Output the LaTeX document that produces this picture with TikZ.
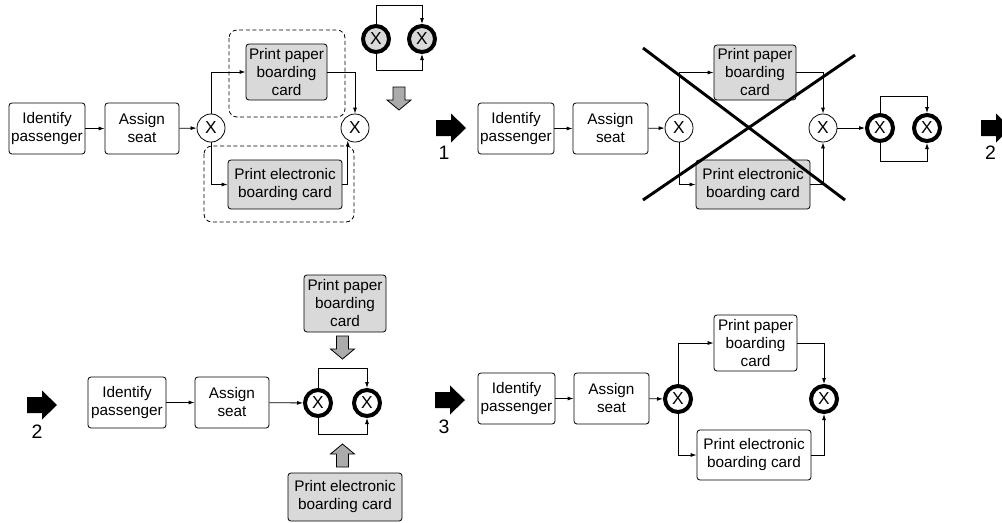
\documentclass[tikz,border=0pt]{standalone}
\usepackage{fontspec}
\setmainfont{Liberation Sans}
\usetikzlibrary{arrows.meta}
\begin{document}
\begin{tikzpicture}[x=0.75pt,y=-0.75pt,
  lbl/.style={font=\fontsize{11.5}{13.5}\selectfont},
  task/.style={lbl, draw, rounded corners=2.2pt, align=center, inner sep=0pt,
    line width=0.6pt, minimum height=38.25pt},
  shaded/.style={fill=black!15},
  gatefont/.style={font=\fontsize{13}{13}\selectfont},
  gate/.style={gatefont, circle, draw, line width=0.6pt, fill=white,
    minimum size=21pt, inner sep=0pt},
  xorgate/.style={gatefont, circle, draw, line width=3pt, fill=white,
    minimum size=19.5pt, inner sep=0pt},
  flow/.style={line width=0.6pt, -{Latex[length=4.5pt,width=3pt]}},
  group/.style={draw, dashed, dash pattern=on 3pt off 2pt, line width=0.6pt, rounded corners=6pt},
  numlabel/.style={font=\fontsize{14.6}{16}\selectfont, inner sep=0pt},
  bigarrow/.pic={\fill (0,-8) -- (15,-8) -- (15,-14.5) -- (30,0) -- (15,14.5)
    -- (15,8) -- (0,8) -- cycle;},
  grayarrow/.pic={\filldraw[fill=black!33, line width=0.6pt, line join=miter]
    (-6,0) -- (6,0) -- (6,13) -- (12,13) -- (0,23) -- (-12,13) -- (-6,13) -- cycle;}
]
\useasboundingbox (0,0) rectangle (1002,522);

% ---------- stage 0: original model with the two alternatives grouped ----------
\draw[group] (229,30) rectangle (345,117);
\draw[group] (204,146) rectangle (354,222);
\node[task, minimum width=57pt] (idA) at (47,128.5) {Identify\\passenger};
\node[task, minimum width=55.5pt] (asA) at (142,128.5) {Assign\\seat};
\node[gate] (xA1) at (211,128) {X};
\node[task, shaded, minimum width=60.75pt, minimum height=42pt] (ppA) at (286.5,72) {Print paper\\boarding\\card};
\node[task, shaded, minimum width=85.5pt, minimum height=36.75pt] (peA) at (285,184.5) {Print electronic\\boarding card};
\node[gate] (xA2) at (355,128) {X};
\draw[flow] (idA) -- (asA);
\draw[flow] (asA) -- (xA1);
\draw[flow] (xA1.north) |- (ppA.west);
\draw[flow] (xA1.south) |- (peA.west);
\draw[flow] (ppA.east) -| (xA2.north);
\draw[flow] (peA.east) -| (xA2.-120);

% replacement gateway pair
\node[xorgate, fill=black!15] (gA1) at (376,39) {X};
\node[xorgate, fill=black!15] (gA2) at (422,39) {X};
\draw[flow] (gA1.north) -- ++(0,-19) -| (gA2.north);
\draw[flow] (gA1.south) -- ++(0,16) -| (gA2.south);
\pic at (399,87) {grayarrow};

\pic at (436,128) {bigarrow};
\node[numlabel] (n1) at (444,153) {1};

% ---------- stage 1: alternatives removed, gateway pair inserted ----------
\node[task, minimum width=57pt] (idB) at (516,128.5) {Identify\\passenger};
\node[task, minimum width=56.25pt] (asB) at (610.5,128.5) {Assign\\seat};
\node[gate] (xB1) at (679,128) {X};
\node[task, shaded, minimum width=61.5pt, minimum height=41.25pt] (ppB) at (755,72.5) {Print paper\\boarding\\card};
\node[task, shaded, minimum width=85.5pt, minimum height=36.75pt] (peB) at (753,184.5) {Print electronic\\boarding card};
\node[gate] (xB2) at (823,128) {X};
\draw[flow] (idB) -- (asB);
\draw[flow] (asB) -- (xB1);
\draw[flow] (xB1.north) |- (ppB.west);
\draw[flow] (xB1.south) |- (peB.west);
\draw[flow] (ppB.east) -| (xB2.north);
\draw[flow] (peB.east) -| (xB2.south);
\draw[line width=2.2pt] (643,48) -- (845,200);
\draw[line width=2.2pt] (643,200) -- (855,55);
\node[xorgate] (gB1) at (880,128) {X};
\node[xorgate] (gB2) at (927,128) {X};
\draw[flow] (xB2) -- (gB1);
\draw[flow] (gB1.north) -- ++(0,-17) -| (gB2.north);
\draw[flow] (gB1.south) -- ++(0,18) -| (gB2.south);

\pic at (981,128) {bigarrow};
\node[numlabel] (n2a) at (990.5,153) {2};

% ---------- stage 2: tasks moved into the new gateways ----------
\pic at (27,405) {bigarrow};
\node[numlabel] (n2b) at (37,431.5) {2};
\node[task, minimum width=58.5pt] (idC) at (127,402.5) {Identify\\passenger};
\node[task, minimum width=55.5pt] (asC) at (232,402.5) {Assign\\seat};
\node[xorgate] (gC1) at (318,403) {X};
\node[xorgate] (gC2) at (367,403) {X};
\draw[flow] (idC) -- (asC);
\draw[flow] (asC) -- (gC1);
\draw[flow] (gC1.north) -- ++(0,-20) -| (gC2.north);
\draw[flow] (gC1.south) -- ++(0,16) -| (gC2.south);
\node[task, shaded, minimum width=61.5pt, minimum height=42.75pt] (ppC) at (345,303.5) {Print paper\\boarding\\card};
\node[task, shaded, minimum width=85.5pt, minimum height=36pt] (peC) at (345,497) {Print electronic\\boarding card};
\pic at (342.5,336) {grayarrow};
\pic[rotate=180] at (342.5,467) {grayarrow};

% ---------- stage 3: resulting model ----------
\pic at (435,400) {bigarrow};
\node[numlabel] (n3) at (444,427) {3};
\node[task, minimum width=57.75pt] (idD) at (516.5,398.5) {Identify\\passenger};
\node[task, minimum width=56.25pt] (asD) at (611.5,398.5) {Assign\\seat};
\node[xorgate] (gD1) at (678,399) {X};
\node[task, minimum width=62.25pt, minimum height=42pt] (ppD) at (755.5,343) {Print paper\\boarding\\card};
\node[task, minimum width=85.5pt, minimum height=37.5pt] (peD) at (754,455) {Print electronic\\boarding card};
\node[xorgate] (gD2) at (824,399) {X};
\draw[flow] (idD) -- (asD);
\draw[flow] (asD) -- (gD1);
\draw[flow] (gD1.north) |- (ppD.west);
\draw[flow] (gD1.south) |- (peD.west);
\draw[flow] (ppD.east) -| (gD2.north);
\draw[flow] (peD.east) -| (gD2.south);
\end{tikzpicture}
\end{document}
